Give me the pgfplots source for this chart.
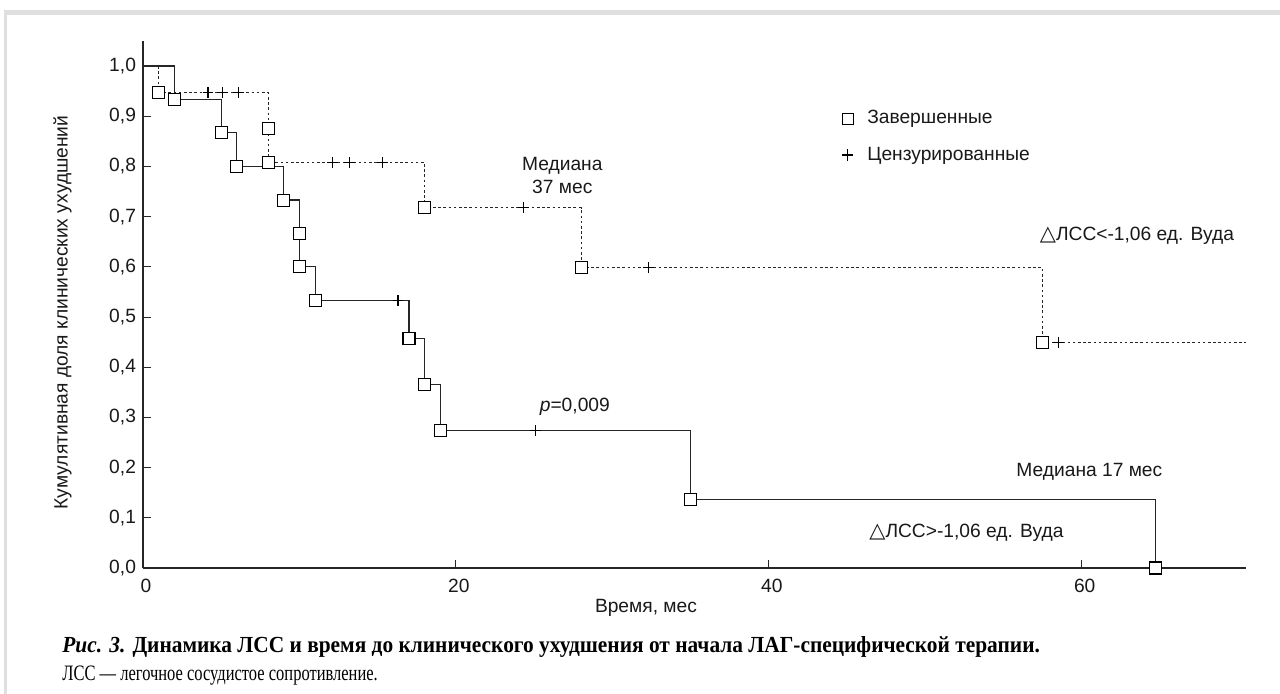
\documentclass[border=0pt]{standalone}
\usepackage{fontspec}
\setmainfont{Liberation Sans}
\newfontfamily\capfontb[FakeStretch=0.93]{Liberation Serif}
\newfontfamily\capfontr[FakeStretch=0.75]{Liberation Serif}
\newfontfamily\symfont{DejaVu Sans}
\usepackage{pgfplots}
\pgfplotsset{compat=1.18}

\newcommand{\dtri}{{\symfont\fontsize{10.5}{10.5}\selectfont △}}
\newcommand{\plotfont}{\fontsize{9.6}{11.5}\selectfont}

\begin{document}
\begin{tikzpicture}
% page and grey frame
\fill[white] (0,0) rectangle (640pt,-347pt);
\fill[gray!25] (2pt,-5pt) rectangle (640pt,-7.5pt);
\fill[gray!25] (2pt,-5pt) rectangle (3.5pt,-347pt);

\begin{axis}[
  at={(71.5pt,-284pt)}, anchor=south west,
  scale only axis, width=551.5pt, height=263.5pt,
  xmin=0, xmax=70.5, ymin=0, ymax=1.05,
  axis lines=left,
  axis line style={line width=1.3pt, black!85, -},
  tick align=inside,
  major tick length=4pt,
  tick style={line width=0.5pt, black!85},
  xtick={0,20,40,60},
  ytick={0,0.1,0.2,0.3,0.4,0.5,0.6,0.7,0.8,0.9,1},
  /pgf/number format/assume math mode=true,
  yticklabel style={/pgf/number format/.cd, fixed, fixed zerofill, precision=1, use comma},
  xticklabel style={yshift=-2pt, xshift=1.5pt},
  tick label style={font=\plotfont, text=black!90},
  label style={font=\plotfont, text=black!90},
  xlabel={Время, мес},
  ylabel={Кумулятивная доля клинических ухудшений},
  xlabel style={at={(axis description cs:0.456,-0.076)}, anchor=center},
  ylabel style={at={(axis description cs:-0.073,0.485)}, anchor=center, rotate=0},
  legend style={at={(axis description cs:0.628,0.884)}, anchor=north west,
    draw=none, fill=none, font=\plotfont, row sep=6pt, text=black!90},
  legend cell align=left,
  clip=false,
]
\addlegendimage{only marks, mark=square, mark size=2.8pt, mark options={line width=0.6pt, black}}
\addlegendentry{\hspace{5pt}Завершенные}
\addlegendimage{only marks, mark=+, mark size=2.8pt, mark options={line width=0.6pt, black}}
\addlegendentry{\hspace{5pt}Цензурированные}

% group with dPVR < -1.06 Wood units (dotted)
\addplot[forget plot, const plot, black!85, line width=0.55pt, dash pattern=on 1.3pt off 1.3pt]
  coordinates {(0,1) (1,0.947) (8,0.876) (8,0.808) (18,0.718) (28,0.598) (57.5,0.449) (70.5,0.449)};
% group with dPVR > -1.06 Wood units (solid)
\addplot[forget plot, const plot, black!85, line width=0.6pt]
  coordinates {(0,1) (2,0.933) (5,0.867) (6,0.8) (9,0.733) (10,0.667) (10,0.6) (11,0.533)
               (17,0.457) (18,0.366) (19,0.274) (35,0.137) (64.7,0)};

% censored observations
\addplot[forget plot, only marks, mark=+, mark size=2.7pt, mark options={line width=0.6pt, black}]
  coordinates {(4.15,0.947) (5.1,0.947) (6.1,0.947) (12.1,0.808) (13.2,0.808) (15.3,0.808)
               (24.3,0.718) (32.3,0.598) (58.5,0.449)};
\addplot[forget plot, only marks, mark=+, mark size=2.7pt, mark options={line width=0.6pt, black}]
  coordinates {(16.3,0.533) (25.1,0.274)};

% events
\addplot[forget plot, only marks, mark=square*, mark size=3pt,
  mark options={fill=white, draw=black, line width=0.55pt}]
  coordinates {(1,0.947) (8,0.876) (8,0.808) (18,0.718) (28,0.598) (57.5,0.449)};
\addplot[forget plot, only marks, mark=square*, mark size=3pt,
  mark options={fill=white, draw=black, line width=0.55pt}]
  coordinates {(2,0.933) (5,0.867) (6,0.8) (9,0.733) (10,0.667) (10,0.6) (11,0.533)
               (17,0.457) (18,0.366) (19,0.274) (35,0.137) (64.7,0)};

\node[font=\plotfont, align=center, text=black!90] at (axis cs:26.8,0.783) {Медиана\\37 мес};
\node[font=\plotfont, anchor=west, text=black!90, inner sep=0pt] at (axis cs:57.3,0.661) {\dtri ЛСС<-1,06 ед. Вуда};
\node[font=\plotfont, text=black!90] at (axis cs:27.6,0.321) {\textit{p}=0,009};
\node[font=\plotfont, anchor=west, text=black!90, inner sep=0pt] at (axis cs:55.8,0.191) {Медиана 17 мес};
\node[font=\plotfont, anchor=west, text=black!90, inner sep=0pt] at (axis cs:46.4,0.070) {\dtri ЛСС>-1,06 ед. Вуда};
\end{axis}

% caption
\node[anchor=base west, inner sep=0pt, font=\capfontb\fontsize{11.5}{13}\selectfont]
  at (31pt,-326.5pt) {\textbf{\textit{Рис. 3.} Динамика ЛСС и время до клинического ухудшения от начала ЛАГ-специфической терапии.}};
\node[anchor=base west, inner sep=0pt, font=\capfontr\fontsize{11}{13}\selectfont]
  at (31pt,-340.5pt) {ЛСС — легочное сосудистое сопротивление.};
\end{tikzpicture}
\end{document}
